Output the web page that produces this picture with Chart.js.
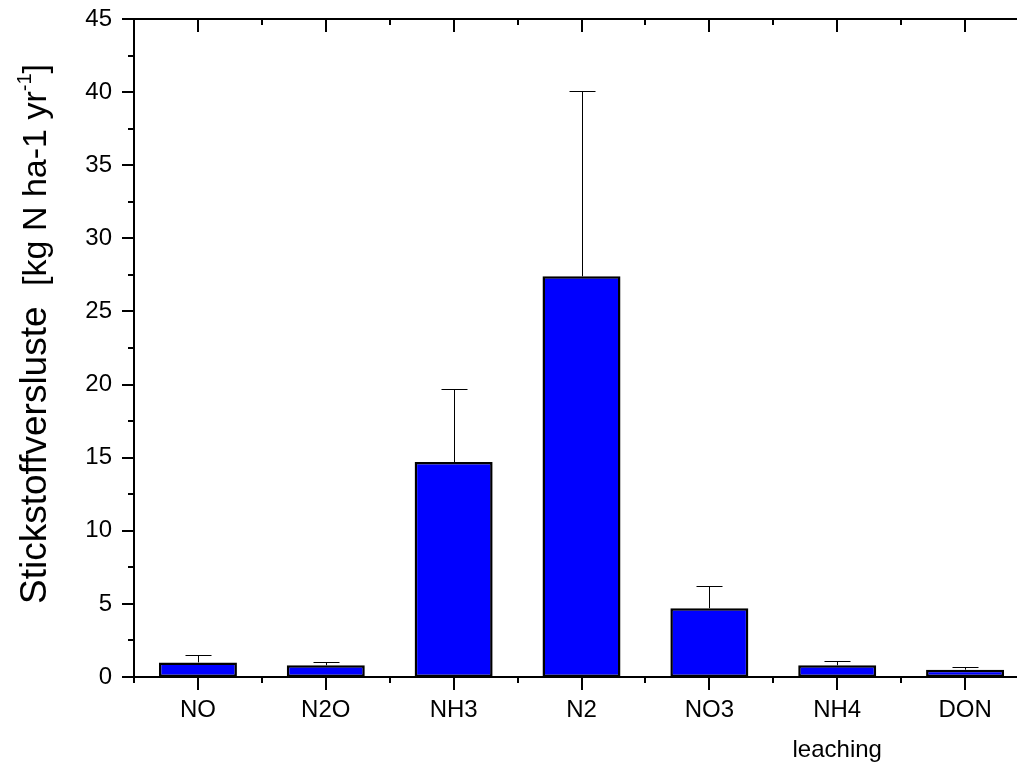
<!DOCTYPE html>
<html>
<head>
<meta charset="utf-8">
<script src="https://cdn.jsdelivr.net/npm/chart.js@4"></script>
<style>
  html, body { margin: 0; padding: 0; background: #fff; overflow: hidden; }
  canvas { display: block; }
</style>
</head>
<body>
<canvas id="lossChart" width="1050" height="764"></canvas>
<script>
// Stickstoffverluste je Pfad, Mittelwert und Fehler nach oben
const categories = ['NO', 'N2O', 'NH3', 'N2', 'NO3', 'NH4', 'DON'];
const lossValues = [1.0, 0.8, 14.7, 27.4, 4.7, 0.8, 0.5];
const lossErrors = [0.5, 0.2, 5.0, 12.7, 1.5, 0.3, 0.2];
const subLabels = ['', '', '', '', '', 'leaching', ''];
const yMin = 0;
const yMax = 45;
const yStep = 5;

const FONT = '"Liberation Sans", Arial, sans-serif';

// error bars only go upwards, with a short cap
const errorBars = {
    id: 'errorBars',
    afterDatasetsDraw(chart) {
        const { ctx, scales: { x, y } } = chart;
        ctx.save();
        ctx.strokeStyle = '#000';
        ctx.lineWidth = 1;
        lossValues.forEach((v, i) => {
            const px = Math.round(x.getPixelForValue(i)) + 0.5;
            const top = y.getPixelForValue(v + lossErrors[i]);
            const base = y.getPixelForValue(v);
            ctx.beginPath();
            ctx.moveTo(px, base);
            ctx.lineTo(px, Math.round(top) + 0.5);
            ctx.moveTo(px - 13, Math.round(top) + 0.5);
            ctx.lineTo(px + 13, Math.round(top) + 0.5);
            ctx.stroke();
        });
        ctx.restore();
    }
};

// box frame with major/minor ticks, like the original plot
const axesFrame = {
    id: 'axesFrame',
    afterDraw(chart) {
        const { ctx, chartArea: a, scales: { x, y } } = chart;
        const left = Math.round(a.left), right = Math.round(a.right);
        const top = Math.round(a.top), bottom = Math.round(a.bottom);
        ctx.save();
        ctx.strokeStyle = '#000';
        ctx.lineWidth = 2;
        ctx.beginPath();
        ctx.rect(left, top, right - left, bottom - top);
        ctx.stroke();

        ctx.beginPath();
        for (let v = yMin; v <= yMax; v += yStep / 2) {
            const py = Math.round(y.getPixelForValue(v));
            const len = v % yStep === 0 ? 12 : 6;
            ctx.moveTo(left - len, py); ctx.lineTo(left, py);
            ctx.moveTo(right, py); ctx.lineTo(right - len, py);
        }
        for (let i = -0.5; i <= categories.length - 0.5; i += 0.5) {
            const px = Math.round(x.getPixelForValue(i));
            const major = Number.isInteger(i);
            const len = major ? 13 : 6;
            ctx.moveTo(px, bottom); ctx.lineTo(px, bottom + len);
            ctx.moveTo(px, top); ctx.lineTo(px, top + len);
        }
        ctx.stroke();

        // second line under the category names
        ctx.fillStyle = '#000';
        ctx.font = '24px ' + FONT;
        ctx.textAlign = 'center';
        ctx.textBaseline = 'alphabetic';
        subLabels.forEach((s, i) => {
            if (s) ctx.fillText(s, x.getPixelForValue(i), 757);
        });

        // y title with superscript
        const parts = [
            { t: 'Stickstoffversluste  ', size: 37, dy: 0 },
            { t: '[kg N ha-1 yr', size: 34, dy: 0 },
            { t: '-1', size: 20, dy: -15 },
            { t: ']', size: 34, dy: 0 }
        ];
        let total = 0;
        parts.forEach(p => {
            ctx.font = p.size + 'px ' + FONT;
            p.w = ctx.measureText(p.t).width;
            total += p.w;
        });
        ctx.translate(46, 334);
        ctx.rotate(-Math.PI / 2);
        ctx.textAlign = 'left';
        let cx = -total / 2;
        parts.forEach(p => {
            ctx.font = p.size + 'px ' + FONT;
            ctx.fillText(p.t, cx, p.dy);
            cx += p.w;
        });
        ctx.restore();
    }
};

const ctx = document.getElementById('lossChart').getContext('2d');
new Chart(ctx, {
    type: 'bar',
    data: {
        labels: categories,
        datasets: [{
            data: lossValues,
            backgroundColor: '#0000ff',
            borderColor: '#000',
            borderWidth: 2.5,
            borderSkipped: false,
            barPercentage: 0.61,
            categoryPercentage: 1.0
        }]
    },
    options: {
        responsive: false,
        animation: false,
        devicePixelRatio: 1,
        layout: { padding: { top: 19, right: 21, left: 0, bottom: 0 } },
        plugins: {
            legend: { display: false },
            tooltip: { enabled: false }
        },
        scales: {
            x: {
                offset: true,
                grid: { display: false, drawTicks: false },
                border: { display: false },
                ticks: {
                    color: '#000',
                    font: { family: FONT, size: 24 },
                    padding: 19,
                    maxRotation: 0
                },
                afterFit(scale) {
                    scale.height = 87;
                    scale.paddingLeft = 0;
                    scale.paddingRight = 0;
                }
            },
            y: {
                min: yMin,
                max: yMax,
                grid: { display: false, drawTicks: false },
                border: { display: false },
                ticks: {
                    stepSize: yStep,
                    color: '#000',
                    font: { family: FONT, size: 24 },
                    padding: 22
                },
                afterFit(scale) {
                    scale.width = 134;
                    scale.paddingTop = 0;
                    scale.paddingBottom = 0;
                }
            }
        }
    },
    plugins: [errorBars, axesFrame]
});
</script>
</body>
</html>
